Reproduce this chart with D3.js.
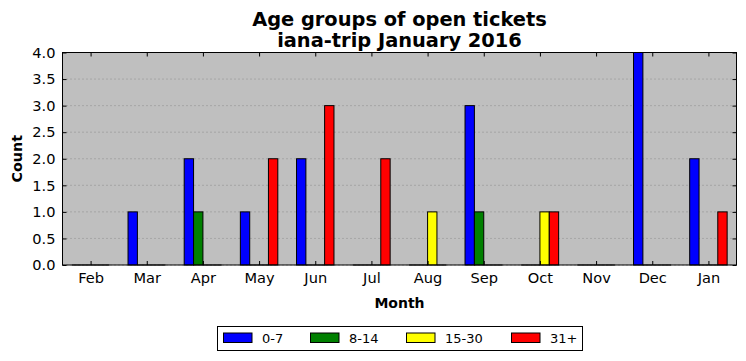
<!DOCTYPE html>
<html>
<head>
<meta charset="utf-8">
<script src="https://cdn.jsdelivr.net/npm/d3@7"></script>
<style>
  body { margin: 0; background: #fff; }
  text { font-family: "DejaVu Sans", sans-serif; }
</style>
</head>
<body>
<div id="chart"></div>
<script>
// data
var months = ["Feb", "Mar", "Apr", "May", "Jun", "Jul", "Aug", "Sep", "Oct", "Nov", "Dec", "Jan"]
var groups = ["0-7", "8-14", "15-30", "31+"]
var colors = ["#0000ff", "#008000", "#ffff00", "#ff0000"]
var age0to7 = [0, 1, 2, 1, 2, 0, 0, 3, 0, 0, 4, 2]
var age8to14 = [0, 0, 1, 0, 0, 0, 0, 1, 0, 0, 0, 0]
var age15to30 = [0, 0, 0, 0, 0, 0, 1, 0, 1, 0, 0, 0]
var age31plus = [0, 0, 0, 2, 3, 2, 0, 0, 1, 0, 0, 1]
var yTicks = [0, 0.5, 1, 1.5, 2, 2.5, 3, 3.5, 4]

var series = [age0to7, age8to14, age15to30, age31plus]

var svgWidth = 746, svgHeight = 361
var margin = { top: 52.5, left: 62.5, right: 9.5, bottom: 96 }
var chartWidth = svgWidth - margin.left - margin.right
var chartHeight = svgHeight - margin.top - margin.bottom

var svg = d3.select("#chart").append("svg")
    .attr("width", svgWidth)
    .attr("height", svgHeight)

var chartGroup = svg.append("g")
    .attr("transform", `translate(${margin.left}, ${margin.top})`)

var xScale = d3.scaleLinear().domain([-0.5, months.length - 0.5]).range([0, chartWidth])
var yScale = d3.scaleLinear().domain([0, 4]).range([chartHeight, 0])
var barW = 1 / 6

// background
chartGroup.append("rect")
    .attr("width", chartWidth)
    .attr("height", chartHeight)
    .attr("fill", "#bfbfbf")

// horizontal grid
chartGroup.append("g")
    .selectAll("line")
    .data(yTicks)
    .enter()
    .append("line")
    .attr("x1", 0)
    .attr("x2", chartWidth)
    .attr("y1", d => yScale(d))
    .attr("y2", d => yScale(d))
    .attr("stroke", "#808080")
    .attr("stroke-width", 0.8)
    .attr("stroke-dasharray", "1,3")

// bars
series.forEach((vals, i) => {
    var g = chartGroup.append("g")
    g.selectAll("rect")
        .data(vals)
        .enter()
        .append("rect")
        .attr("x", (d, j) => xScale(j + (i - 2) * barW))
        .attr("y", d => yScale(d))
        .attr("width", xScale(barW) - xScale(0))
        .attr("height", d => yScale(0) - yScale(d))
        .attr("fill", colors[i])
        .attr("stroke", "#000")
        .attr("stroke-width", 1)
    // zero-height bars still show their edge
    g.selectAll("line")
        .data(vals.map((v, j) => ({ v: v, j: j })).filter(d => d.v === 0))
        .enter()
        .append("line")
        .attr("x1", d => xScale(d.j + (i - 2) * barW))
        .attr("x2", d => xScale(d.j + (i - 1) * barW))
        .attr("y1", yScale(0))
        .attr("y2", yScale(0))
        .attr("stroke", "#000")
        .attr("stroke-width", 1)
})

// axes, ticks pointing inward
var xIdx = d3.range(months.length)
var xAxis = d3.axisBottom(xScale).tickValues(xIdx).tickFormat(i => months[i]).tickSizeInner(-4).tickSizeOuter(0).tickPadding(8)
var xAxisTop = d3.axisTop(xScale).tickValues(xIdx).tickFormat("").tickSizeInner(-4).tickSizeOuter(0)
var yAxis = d3.axisLeft(yScale).tickValues(yTicks).tickFormat(d3.format(".1f")).tickSizeInner(-4).tickSizeOuter(0).tickPadding(7)
var yAxisRight = d3.axisRight(yScale).tickValues(yTicks).tickFormat("").tickSizeInner(-4).tickSizeOuter(0)

var axes = [
    chartGroup.append("g").attr("transform", `translate(0, ${chartHeight})`).call(xAxis),
    chartGroup.append("g").call(xAxisTop),
    chartGroup.append("g").call(yAxis),
    chartGroup.append("g").attr("transform", `translate(${chartWidth}, 0)`).call(yAxisRight)
]
axes.forEach(a => {
    a.attr("font-size", 14.6)
    a.select(".domain").remove()
    a.selectAll("line").attr("stroke", "#000")
    a.selectAll("text").attr("fill", "#000")
        .style("font-family", "'DejaVu Sans', sans-serif")
})

// frame
chartGroup.append("rect")
    .attr("width", chartWidth)
    .attr("height", chartHeight)
    .attr("fill", "none")
    .attr("stroke", "#000")
    .attr("stroke-width", 1)

// titles
var midX = margin.left + chartWidth / 2
svg.append("text")
    .attr("x", midX).attr("y", 25.5)
    .attr("text-anchor", "middle")
    .attr("font-size", 19.4).attr("font-weight", "bold")
    .text("Age groups of open tickets")
svg.append("text")
    .attr("x", midX).attr("y", 46.5)
    .attr("text-anchor", "middle")
    .attr("font-size", 19.4).attr("font-weight", "bold")
    .text("iana-trip January 2016")

svg.append("text")
    .attr("x", midX).attr("y", 308)
    .attr("text-anchor", "middle")
    .attr("font-size", 14).attr("font-weight", "bold")
    .text("Month")

svg.append("text")
    .attr("transform", `translate(21.5, ${margin.top + chartHeight / 2}) rotate(-90)`)
    .attr("text-anchor", "middle")
    .attr("font-size", 14.3).attr("font-weight", "bold")
    .text("Count")

// legend
var legend = svg.append("g")
legend.append("rect")
    .attr("x", 217.5).attr("y", 326.5)
    .attr("width", 365).attr("height", 24)
    .attr("fill", "#fff").attr("stroke", "#000")

var legendX = [223, 310, 406, 511]
groups.forEach((name, i) => {
    legend.append("rect")
        .attr("x", legendX[i] + 0.5).attr("y", 333)
        .attr("width", 28.5).attr("height", 9.5)
        .attr("fill", colors[i]).attr("stroke", "#000")
    legend.append("text")
        .attr("x", legendX[i] + 39).attr("y", 343)
        .attr("font-size", 13)
        .text(name)
})
</script>
</body>
</html>
